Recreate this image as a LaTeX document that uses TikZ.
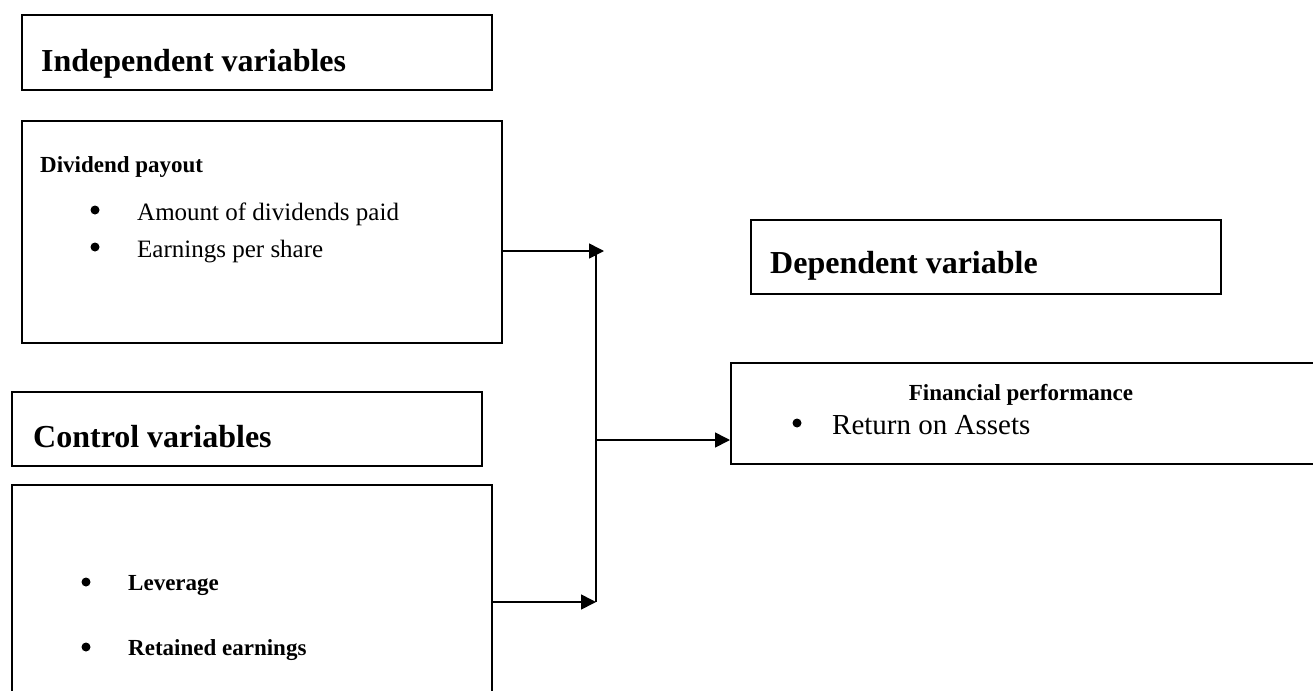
\documentclass[tikz,border=0pt]{standalone}
\usepackage{fontspec}
\setmainfont{Liberation Serif}
\usetikzlibrary{arrows.meta}
\begin{document}
\begin{tikzpicture}[x=1pt,y=-1pt]
\tikzstyle{box} = [rectangle, draw=black, line width=1.8pt, inner sep=0pt, anchor=north west]
\tikzstyle{head} = [anchor=base west, inner sep=0pt, font=\fontsize{32}{36}\selectfont\bfseries]
\tikzstyle{sub} = [inner sep=0pt, font=\fontsize{23}{27}\selectfont\bfseries]
\tikzstyle{item} = [anchor=base west, inner sep=0pt, font=\fontsize{25}{29}\selectfont]
\tikzstyle{bul} = [circle, fill=black, inner sep=0pt, minimum size=9pt]

\tikzstyle{arrow} = [line width=1.6pt, -{Triangle[length=15pt,width=15pt]}]
\tikzstyle{noarrow} = [line width=1.6pt]

\clip (0,0) rectangle (1313,690);

%boxes
\node (IV) [box, minimum width=470pt, minimum height=75pt] at (21,14) {};
\node (DP) [box, minimum width=480pt, minimum height=222pt] at (21,120) {};
\node (DV) [box, minimum width=470pt, minimum height=74pt] at (750,219) {};
\node (CV) [box, minimum width=470pt, minimum height=74pt] at (11,391) {};
\node (LE) [box, minimum width=480pt, minimum height=230pt] at (11,484) {};
\node (FP) [box, minimum width=590pt, minimum height=101pt] at (730,362) {};

%texts
\node (IVt) [head] at (41,72) {Independent variables};
\node (DVt) [head] at (770,273) {Dependent variable};
\node (CVt) [head] at (33,447) {Control variables};

\node (DPt) [sub, anchor=base west] at (40,172) {Dividend payout};
\node (DPb1) [bul] at (95,210) {};
\node (DPi1) [item] at (137,220) {Amount of dividends paid};
\node (DPb2) [bul] at (95,247) {};
\node (DPi2) [item] at (137,257) {Earnings per share};

\node (LEb1) [bul] at (86,582) {};
\node (LEi1) [sub, anchor=base west] at (128,590) {Leverage};
\node (LEb2) [bul] at (86,647) {};
\node (LEi2) [sub, anchor=base west] at (128,655) {Retained earnings};

\node (FPt) [sub, anchor=base] at (1021,400) {Financial performance};
\node (FPb1) [bul] at (797,423) {};
\node (FPi1) [item, font=\fontsize{29}{33}\selectfont] at (832,434) {Return on Assets};

%junction points
\coordinate (JT) at (604,251);
\coordinate (JTop) at (596,251);
\coordinate (JM) at (596,440);
\coordinate (JB) at (596,602);

%lines
\draw [arrow] (DP.east |- JT) -- (JT);
\draw [noarrow] (JTop) -- (JB);
\draw [arrow] (LE.east |- JB) -- (JB);
\draw [arrow] (JM) -- (FP.west |- JM);
\end{tikzpicture}
\end{document}
